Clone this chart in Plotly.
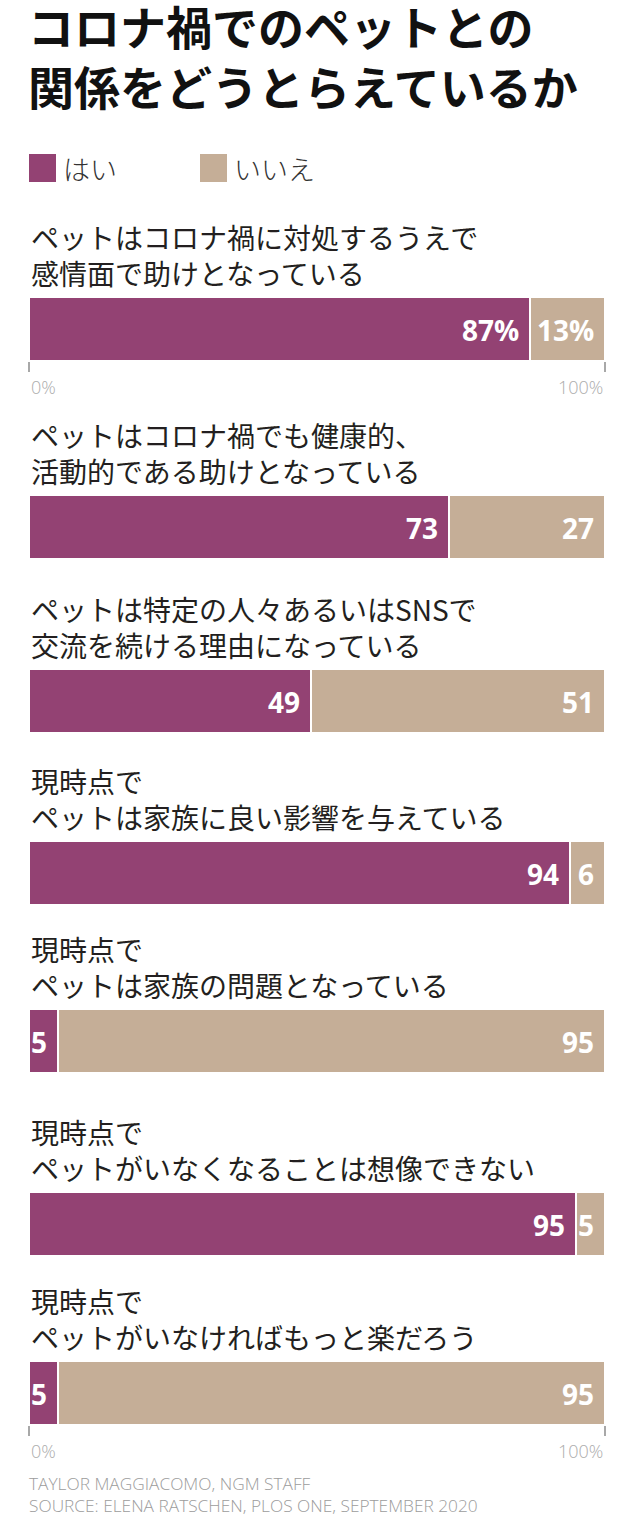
import plotly.graph_objects as go

# data
title_lines = ['コロナ禍でのペットとの', '関係をどうとらえているか']
series_names = ['はい', 'いいえ']
questions = [
    ['ペットはコロナ禍に対処するうえで', '感情面で助けとなっている'],
    ['ペットはコロナ禍でも健康的、', '活動的である助けとなっている'],
    ['ペットは特定の人々あるいはSNSで', '交流を続ける理由になっている'],
    ['現時点で', 'ペットは家族に良い影響を与えている'],
    ['現時点で', 'ペットは家族の問題となっている'],
    ['現時点で', 'ペットがいなくなることは想像できない'],
    ['現時点で', 'ペットがいなければもっと楽だろう'],
]
yes = [87, 73, 49, 94, 5, 95, 5]
no = [13, 27, 51, 6, 95, 5, 95]
tick_labels = ['0%', '100%']
credit = ['TAYLOR MAGGIACOMO, NGM STAFF',
          'SOURCE: ELENA RATSCHEN, PLOS ONE, SEPTEMBER 2020']

# layout
W, H = 630, 1517
PURPLE = '#934273'
TAN = '#c5ae97'
JP = 'Noto Sans CJK JP'
LAT = 'Open Sans'
bar_top = [298, 496, 670, 842, 1010, 1193, 1362]
BAR_H = 62
X0, X1 = 29, 605


def px(x):
    return x / W


def py(y):
    return 1 - y / H


fig = go.Figure()
annotations = []
layout_axes = {}
n = len(questions)
for i in range(n):
    s = '' if i == 0 else str(i + 1)
    for vals, color, name in [(yes, PURPLE, series_names[0]), (no, TAN, series_names[1])]:
        fig.add_trace(go.Bar(
            x=[vals[i]], y=[0], orientation='h', width=1, name=name,
            marker=dict(color=color, line=dict(color='white', width=2.5)),
            xaxis='x' + s, yaxis='y' + s, showlegend=False, hoverinfo='skip'))
    edge = i in (0, n - 1)
    layout_axes['xaxis' + s] = dict(
        domain=[px(X0), px(X1)], range=[0, 100], anchor='y' + s,
        showgrid=False, zeroline=False, showline=False, showticklabels=False,
        ticks='outside' if edge else '', tickvals=[0, 100], ticklen=10,
        tickwidth=1.5, tickcolor='#a8a8a8', fixedrange=True)
    layout_axes['yaxis' + s] = dict(
        domain=[py(bar_top[i] + BAR_H + 1), py(bar_top[i] - 1)],
        range=[-0.5, 0.5], anchor='x' + s, visible=False, fixedrange=True)

    # question text, two lines above the bar
    annotations.append(dict(
        text='<br>'.join(questions[i]), align='left',
        xref='x' + s + ' domain', yref='y' + s + ' domain',
        x=0, y=1, xanchor='left', yanchor='bottom', showarrow=False,
        yshift=2, font=dict(family=JP, size=28, color='#231f20')))

    # value labels inside segments
    suffix = '%' if i == 0 else ''
    for xv, v in [(yes[i], yes[i]), (yes[i] + no[i], no[i])]:
        annotations.append(dict(
            text=f'{v}{suffix}', xref='x' + s, yref='y' + s, x=xv, y=0,
            xanchor='right', yanchor='middle', xshift=-9, yshift=-1,
            showarrow=False,
            font=dict(family=LAT, size=28, color='white', weight=700)))

    if edge:
        for xv, lab, anc in [(0, tick_labels[0], 'left'), (100, tick_labels[1], 'right')]:
            annotations.append(dict(
                text=lab, xref='x' + s, yref='y' + s + ' domain', x=xv, y=0,
                xanchor=anc, yanchor='top', yshift=-12, showarrow=False,
                font=dict(family=LAT, size=18, color='#acacac', weight=300)))

# title
annotations.append(dict(
    text='<br>'.join(title_lines), align='left',
    xref='paper', yref='paper', x=px(X0 - 3), y=py(55),
    xanchor='left', yanchor='middle', showarrow=False,
    font=dict(family=JP, size=46, color='#111111', weight=700)))

# legend
legend_x = [29, 200]
shapes = []
for lx, color, name in zip(legend_x, [PURPLE, TAN], series_names):
    shapes.append(dict(type='rect', xref='paper', yref='paper',
                       x0=px(lx), x1=px(lx + 27), y0=py(182), y1=py(154),
                       fillcolor=color, line=dict(width=0)))
    annotations.append(dict(
        text=name, xref='paper', yref='paper', x=px(lx + 32), y=py(168),
        xanchor='left', yanchor='middle', showarrow=False,
        font=dict(family=JP, size=27, color='#333333', weight=300)))

# credit
annotations.append(dict(
    text='<br>'.join(credit), align='left',
    xref='paper', yref='paper', x=px(X0 - 2), y=py(1519),
    xanchor='left', yanchor='bottom', showarrow=False,
    font=dict(family=LAT, size=17.3, color='#9c9c9c', weight=300)))

fig.update_layout(
    width=W, height=H, margin=dict(l=0, r=0, t=0, b=0),
    paper_bgcolor='white', plot_bgcolor='white',
    barmode='stack', bargap=0, showlegend=False,
    annotations=annotations, shapes=shapes, **layout_axes)

fig.write_html('out.html', config={'displayModeBar': False},
               post_script="document.body.style.margin='0';")
